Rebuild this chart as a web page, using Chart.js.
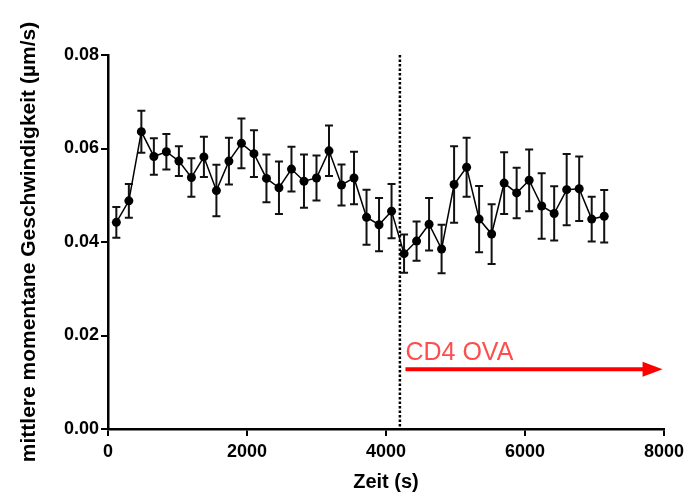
<!DOCTYPE html>
<html>
<head>
<meta charset="utf-8">
<script src="https://cdn.jsdelivr.net/npm/chart.js@4.4.1/dist/chart.umd.min.js"></script>
<style>
  html, body { margin: 0; padding: 0; background: #ffffff; }
  #wrap { width: 689px; height: 496px; position: relative; }
</style>
</head>
<body>
<div id="wrap"><canvas id="c" width="689" height="496"></canvas></div>
<script>
// ---- data ----
const times = [120, 300, 480, 660, 840, 1020, 1200, 1380, 1560, 1740,
               1920, 2100, 2280, 2460, 2640, 2820, 3000, 3180, 3360, 3540,
               3720, 3900, 4080, 4260, 4440, 4620, 4800, 4980, 5160, 5340,
               5520, 5700, 5880, 6060, 6240, 6420, 6600, 6780, 6960, 7140];
const meanSpeed = [0.0442, 0.0488, 0.0636, 0.0583, 0.0593, 0.0573, 0.0538, 0.0582, 0.0510, 0.0573,
                   0.0611, 0.0589, 0.0536, 0.0516, 0.0556, 0.0530, 0.0537, 0.0595, 0.0522, 0.0537,
                   0.0453, 0.0437, 0.0466, 0.0375, 0.0402, 0.0438, 0.0385, 0.0523, 0.0560, 0.0449,
                   0.0417, 0.0526, 0.0505, 0.0532, 0.0477, 0.0461, 0.0512, 0.0514, 0.0449, 0.0455];
const errSpeed = [0.0033, 0.0036, 0.0045, 0.0039, 0.0038, 0.0032, 0.0041, 0.0043, 0.0055, 0.0050,
                  0.0053, 0.0050, 0.0051, 0.0056, 0.0048, 0.0057, 0.0048, 0.0054, 0.0044, 0.0056,
                  0.0059, 0.0057, 0.0058, 0.0041, 0.0042, 0.0056, 0.0052, 0.0082, 0.0063, 0.0071,
                  0.0064, 0.0066, 0.0054, 0.0066, 0.0070, 0.0058, 0.0076, 0.0069, 0.0048, 0.0056];
const xTicks = [0, 2000, 4000, 6000, 8000];
const yTicks = [0.00, 0.02, 0.04, 0.06, 0.08];
const xTitle = 'Zeit (s)';
const yTitle = 'mittlere momentane Geschwindigkeit (µm/s)';
const markerTime = 4200;          // dotted vertical line
const arrowLabel = 'CD4 OVA';
const arrowFrom = 4280;
const arrowTo = 7980;
const arrowLevel = 0.0128;

const FONT = '"Liberation Sans", Arial, Helvetica, sans-serif';

const errorBarPlugin = {
  id: 'errorBars',
  beforeDatasetsDraw(chart) {
    const {ctx, scales: {x, y}} = chart;
    ctx.save();
    ctx.strokeStyle = '#111';
    ctx.lineWidth = 2;
    const cap = 4;
    times.forEach((t, i) => {
      const px = x.getPixelForValue(t);
      const top = y.getPixelForValue(meanSpeed[i] + errSpeed[i]);
      const bot = y.getPixelForValue(meanSpeed[i] - errSpeed[i]);
      ctx.beginPath();
      ctx.moveTo(px, top); ctx.lineTo(px, bot);
      ctx.moveTo(px - cap, top); ctx.lineTo(px + cap, top);
      ctx.moveTo(px - cap, bot); ctx.lineTo(px + cap, bot);
      ctx.stroke();
    });
    ctx.restore();
  }
};

const annotationPlugin = {
  id: 'annot',
  afterDatasetsDraw(chart) {
    const {ctx, scales: {x, y}} = chart;
    ctx.save();
    // dotted line
    const mx = x.getPixelForValue(markerTime);
    ctx.strokeStyle = '#000';
    ctx.lineWidth = 2.5;
    ctx.setLineDash([2.5, 2]);
    ctx.beginPath();
    ctx.moveTo(mx, y.getPixelForValue(y.max));
    ctx.lineTo(mx, y.getPixelForValue(y.min));
    ctx.stroke();
    ctx.setLineDash([]);
    // arrow
    const ax0 = x.getPixelForValue(arrowFrom);
    const ax1 = x.getPixelForValue(arrowTo);
    const ay = y.getPixelForValue(arrowLevel);
    const headLen = 20, headHalf = 7.5;
    ctx.strokeStyle = '#ff0000';
    ctx.fillStyle = '#ff0000';
    ctx.lineWidth = 4;
    ctx.beginPath();
    ctx.moveTo(ax0, ay);
    ctx.lineTo(ax1 - headLen + 1, ay);
    ctx.stroke();
    ctx.beginPath();
    ctx.moveTo(ax1, ay);
    ctx.lineTo(ax1 - headLen, ay - headHalf);
    ctx.lineTo(ax1 - headLen, ay + headHalf);
    ctx.closePath();
    ctx.fill();
    // label
    ctx.fillStyle = '#ff4d4d';
    ctx.font = '25px ' + FONT;
    ctx.textAlign = 'left';
    ctx.textBaseline = 'alphabetic';
    ctx.fillText(arrowLabel, ax0, ay - 9);
    ctx.restore();
  }
};

new Chart(document.getElementById('c'), {
  type: 'line',
  data: {
    datasets: [{
      data: times.map((t, i) => ({x: t, y: meanSpeed[i]})),
      borderColor: '#000',
      borderWidth: 1.5,
      backgroundColor: '#000',
      pointBackgroundColor: '#000',
      pointBorderColor: '#000',
      pointRadius: 4.5,
      pointBorderWidth: 0,
      tension: 0,
      fill: false
    }]
  },
  options: {
    responsive: false,
    animation: false,
    layout: { padding: { top: 55, right: 22, left: 0, bottom: 0 } },
    plugins: { legend: { display: false }, tooltip: { enabled: false } },
    scales: {
      x: {
        type: 'linear',
        min: 0, max: 8000,
        afterBuildTicks: (s) => { s.ticks = xTicks.map(v => ({value: v})); },
        afterFit: (s) => { s.height = 67; },
        ticks: {
          color: '#000',
          font: { family: FONT, size: 18, weight: 'bold' },
          padding: 5,
          maxRotation: 0,
          callback: (v) => String(v)
        },
        grid: { drawOnChartArea: false, drawTicks: true, tickLength: 7, color: '#000', lineWidth: 2 },
        border: { display: true, color: '#000', width: 2.5 },
        title: {
          display: true, text: xTitle, color: '#000',
          font: { family: FONT, size: 20, weight: 'bold' },
          padding: { top: 0, bottom: 2 }
        }
      },
      y: {
        type: 'linear',
        min: 0, max: 0.08,
        afterBuildTicks: (s) => { s.ticks = yTicks.map(v => ({value: v})); },
        afterFit: (s) => { s.width = 108; },
        ticks: {
          color: '#000',
          font: { family: FONT, size: 18, weight: 'bold' },
          padding: 2,
          callback: (v) => Number(v).toFixed(2)
        },
        grid: { drawOnChartArea: false, drawTicks: true, tickLength: 7, color: '#000', lineWidth: 2 },
        border: { display: true, color: '#000', width: 2.5 },
        title: {
          display: true, text: yTitle, color: '#000',
          font: { family: FONT, size: 21, weight: 'bold' },
          padding: { top: 17, bottom: 0 }
        }
      }
    }
  },
  plugins: [errorBarPlugin, annotationPlugin]
});
</script>
</body>
</html>
